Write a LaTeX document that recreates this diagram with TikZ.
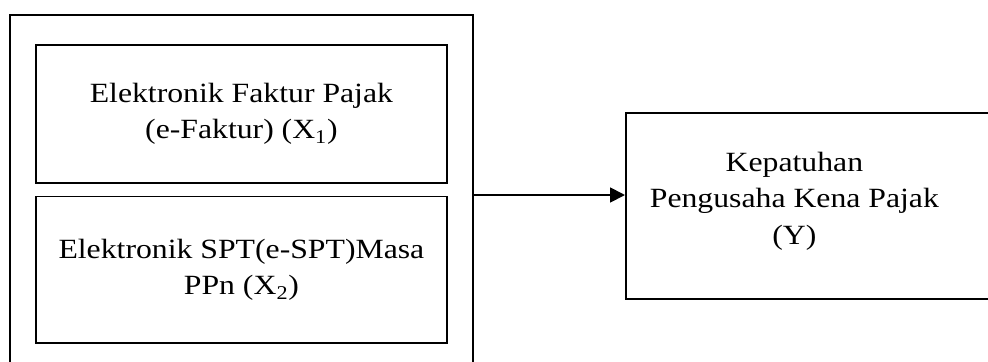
\documentclass[tikz,border=0pt]{standalone}
\usepackage{fontspec}
\setmainfont{Liberation Serif}[FakeStretch=1.14]
\usetikzlibrary{positioning, arrows.meta, calc}

\begin{document}
\begin{tikzpicture}[
    >={Triangle[length=10.5pt, width=10.5pt]},
    font={\fontsize{19.8}{26.1}\selectfont},
    line width=1.3pt,
    varbox/.style={draw, rectangle, align=center, inner sep=0pt}
]
\useasboundingbox (0,0) rectangle (24.7,9.025);

% 1. Outer frame holding both X variables
\node[varbox, minimum width=11.57cm, minimum height=8.98cm] (xframe) at (6.035,4.15) {};

% 2. The two independent variables inside the frame
\node[varbox, minimum width=10.28cm, minimum height=3.44cm] (xone) at (6.035,6.18) {Elektronik Faktur Pajak\\(e-Faktur) (X\textsubscript{1})};
\node[varbox, minimum width=10.28cm, minimum height=3.67cm, below=0.3cm of xone] (xtwo) {Elektronik SPT(e-SPT)Masa\\PPn (X\textsubscript{2})};

% 3. Dependent variable (Y)
\node[varbox, minimum width=9.4cm, minimum height=4.65cm, anchor=west] (ybox) at (15.625,3.875) {};
\node[align=center] (ytext) at (19.86,4.0) {Kepatuhan\\Pengusaha Kena Pajak\\(Y)};

% --- Connector X -> Y ---
\draw[->] (xframe.east) -- (ybox.west |- xframe.east);

\end{tikzpicture}
\end{document}
